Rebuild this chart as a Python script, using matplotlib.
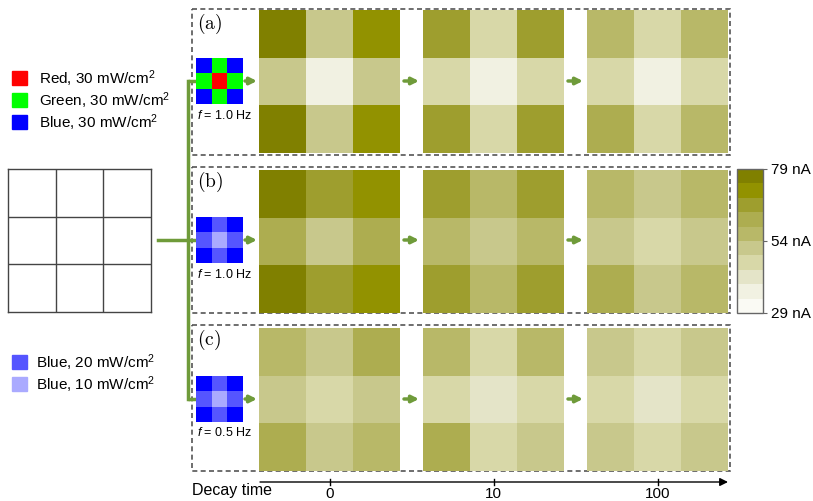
import numpy as np
import matplotlib
matplotlib.use("Agg")
import matplotlib.pyplot as plt
from matplotlib.colors import ListedColormap, BoundaryNorm, to_rgb
from matplotlib.patches import Rectangle
import matplotlib.colorbar as mcolorbar

plt.rcParams['font.family'] = ['Liberation Sans', 'DejaVu Sans']
plt.rcParams['mathtext.fontset'] = 'custom'
plt.rcParams['mathtext.rm'] = 'Liberation Sans'
plt.rcParams['mathtext.it'] = 'Liberation Sans:italic'

# photocurrent maps (nA), one 3x3 array per panel and decay time
times = ["0", "10", "100"]
panel_labels = ["(a)", "(b)", "(c)"]
freqs = ["1.0", "1.0", "0.5"]

a_maps = [
    [[77, 51, 72], [51, 36, 51], [77, 51, 72]],
    [[67, 46, 67], [46, 36, 46], [67, 46, 67]],
    [[56, 46, 56], [46, 36, 46], [61, 46, 56]],
]
b_maps = [
    [[77, 67, 72], [62, 51, 62], [77, 67, 72]],
    [[67, 56, 67], [56, 51, 56], [67, 56, 67]],
    [[56, 51, 56], [51, 46, 51], [61, 51, 56]],
]
c_maps = [
    [[56, 51, 61], [51, 46, 51], [61, 51, 56]],
    [[56, 46, 56], [46, 41, 46], [61, 46, 51]],
    [[51, 46, 51], [46, 41, 46], [51, 46, 51]],
]
panels = [a_maps, b_maps, c_maps]

# illumination patterns
light_colors = {"R": "#ff0000", "G": "#00ff00", "B": "#0000ff",
                "B20": "#5555ff", "B10": "#aaaaff"}
icon_a = [["B", "G", "B"], ["G", "R", "G"], ["B", "G", "B"]]
icon_b = [["B", "B20", "B"], ["B20", "B10", "B20"], ["B", "B20", "B"]]
icon_c = [["B", "B20", "B"], ["B20", "B10", "B20"], ["B", "B20", "B"]]
icons = [icon_a, icon_b, icon_c]

top_legend = [("R", r"Red, 30 mW/cm$^2$"), ("G", r"Green, 30 mW/cm$^2$"),
              ("B", r"Blue, 30 mW/cm$^2$")]
bottom_legend = [("B20", r"Blue, 20 mW/cm$^2$"), ("B10", r"Blue, 10 mW/cm$^2$")]

# discrete colour scale 29..79 nA
levels = np.arange(29, 80, 5)
level_colors = ["#fafaf4", "#f1f1e2", "#e4e4c8", "#d8d8a8", "#c8c88c",
                "#b8b868", "#adad50", "#9e9e2e", "#929200", "#808000"]
cmap = ListedColormap(level_colors)
norm = BoundaryNorm(levels, cmap.N)

W, H = 813, 501
fig = plt.figure(figsize=(W / 100, H / 100), dpi=100)


def px_axes(x0, y0, w, h):
    return fig.add_axes([x0 / W, 1 - (y0 + h) / H, w / W, h / H])


# overlay in pixel coordinates for boxes, arrows and connectors
ov = fig.add_axes([0, 0, 1, 1])
ov.set_xlim(0, W)
ov.set_ylim(H, 0)
ov.axis("off")

green = "#6f9b3a"
box_tops = [9, 167, 325]
box_h = 146
map_x = [259, 423, 587]
map_w = 141
map_top = [10, 170, 328]
map_h = 143
icon_top = [58, 217, 376]

for p in range(3):
    ov.add_patch(Rectangle((192, box_tops[p]), 538, box_h, fill=False,
                           ec="#555555", lw=1.2, ls=(0, (3, 2))))
    ov.text(197, box_tops[p] + 15, r"$\mathrm{%s}$" % panel_labels[p],
            fontsize=14, va="center", ha="left", math_fontfamily="cm")

    for t in range(3):
        hx = px_axes(map_x[t], map_top[p], map_w, map_h)
        hx.imshow(np.array(panels[p][t]), cmap=cmap, norm=norm,
                  aspect="auto", interpolation="nearest")
        hx.set_xticks([])
        hx.set_yticks([])
        for s in hx.spines.values():
            s.set_visible(False)

    ix = px_axes(196, icon_top[p], 47, 46)
    rgb = np.array([[to_rgb(light_colors[c]) for c in row] for row in icons[p]])
    ix.imshow(rgb, aspect="auto", interpolation="nearest")
    ix.axis("off")
    ov.text(197, icon_top[p] + 57, r"$f$" + " = " + freqs[p] + " Hz",
            fontsize=9, va="center", ha="left")

    ymid = icon_top[p] + 23
    arrow_kw = dict(arrowstyle="-|>", color=green, lw=2.5, mutation_scale=10,
                    shrinkA=0, shrinkB=0)
    ov.annotate("", xy=(257, ymid), xytext=(245, ymid), arrowprops=arrow_kw)
    ov.annotate("", xy=(419, ymid), xytext=(404, ymid), arrowprops=arrow_kw)
    ov.annotate("", xy=(583, ymid), xytext=(568, ymid), arrowprops=arrow_kw)

    ov.plot([188, 196], [ymid, ymid], color=green, lw=2.5, solid_capstyle="butt")

# connector from the empty pixel grid to the three panels
ov.plot([188, 188], [icon_top[0] + 23, icon_top[2] + 23], color=green, lw=2.5)
ov.plot([158, 188], [240, 240], color=green, lw=2.5)

# empty 3x3 pixel array
gx = px_axes(8, 169, 143, 143)
gx.set_xlim(0, 3)
gx.set_ylim(0, 3)
for k in (1, 2):
    gx.axvline(k, color="#444444", lw=1)
    gx.axhline(k, color="#444444", lw=1)
gx.set_xticks([])
gx.set_yticks([])
for s in gx.spines.values():
    s.set_color("#444444")
    s.set_linewidth(1)

# legends
for i, (key, label) in enumerate(top_legend):
    y = 71 + i * 22
    ov.add_patch(Rectangle((12, y), 15, 14, color=light_colors[key]))
    ov.text(39, y + 8, label, fontsize=11, va="center", ha="left")
for i, (key, label) in enumerate(bottom_legend):
    y = 355 + i * 22
    ov.add_patch(Rectangle((12, y), 15, 14, color=light_colors[key]))
    ov.text(36, y + 8, label, fontsize=11, va="center", ha="left")

# decay time axis
ov.annotate("", xy=(728, 482), xytext=(260, 482),
            arrowprops=dict(arrowstyle="-|>", color="black", lw=1,
                            mutation_scale=12, shrinkA=0, shrinkB=0))
for t in range(3):
    xc = map_x[t] + map_w / 2
    ov.plot([xc, xc], [479, 485], color="black", lw=1)
    ov.text(xc, 494, times[t], fontsize=11, ha="center", va="center")
ov.text(192, 490, "Decay time", fontsize=11.5, ha="left", va="center")

# colour bar
cx = px_axes(737, 169, 26, 144)
cb = mcolorbar.ColorbarBase(cx, cmap=cmap, norm=norm, boundaries=levels,
                            ticks=[29, 54, 79], orientation="vertical")
cb.set_ticklabels(["29 nA", "54 nA", "79 nA"])
cb.minorticks_off()
cb.outline.set_edgecolor("#666666")
cb.outline.set_linewidth(1)
cx.tick_params(labelsize=11, length=3, width=0.8, color="#666666", pad=3)

fig.savefig("out.png", dpi=100)
